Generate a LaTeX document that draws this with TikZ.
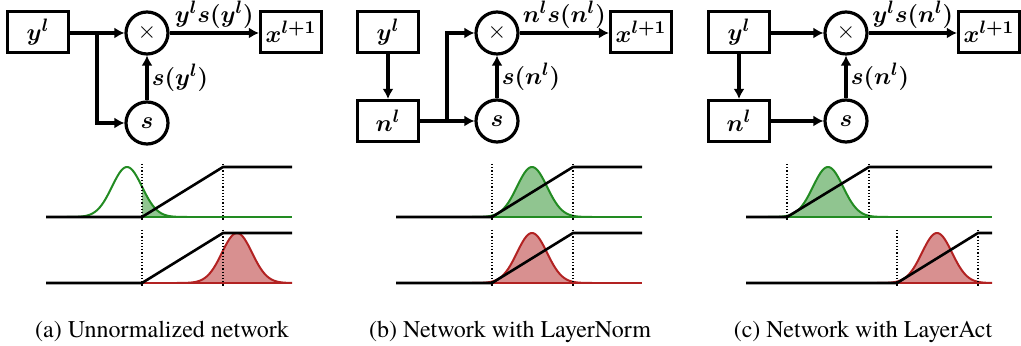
\documentclass[tikz,border=0pt]{standalone}
\usepackage{fontspec}
\setmainfont{texgyretermes}[Extension=.otf,UprightFont=*-regular]
\usepackage{amsmath,bm}
\usepackage{tikz}
\usetikzlibrary{positioning,arrows.meta}

\definecolor{actgreen}{RGB}{34,139,34}
\definecolor{actred}{RGB}{178,34,34}

\begin{document}
\begin{tikzpicture}[x=0.5pt,y=-0.5pt,
  blk/.style={draw,line width=1.6pt,minimum width=30.5pt,minimum height=20.5pt,inner sep=0pt,font=\fontsize{12.5}{14}\selectfont},
  op/.style={draw,circle,line width=1.6pt,minimum size=21pt,inner sep=0pt,font=\fontsize{12.5}{14}\selectfont},
  conn/.style={-{Latex[length=5pt,width=5.5pt]},line width=1.8pt},
  lb/.style={font=\fontsize{12.5}{14}\selectfont,inner sep=1.5pt},
  subcap/.style={font=\fontsize{12}{14}\selectfont,anchor=base},
  act/.style={line width=1.3pt},
  guide/.style={line width=0.7pt,dash pattern=on 0.6pt off 1pt}]
\useasboundingbox (0,0) rectangle (1021,346);

% (a) plain residual branch
\node[blk] (ya) at (38,32) {$\bm{y^l}$};
\node[op] (ma) at (147,33) {$\times$};
\node[op] (sa) at (147,123) {$\bm{s}$};
\node[blk] (xa) at (291,32) {$\bm{x^{l+1}}$};
\coordinate (ja) at (97,33);
\draw[conn] (ya.east |- ma) -- (ma);
\draw[conn] (ja) |- (sa);
\draw[conn] (sa) -- node[lb,right] {$\bm{s(y^l)}$} (ma);
\draw[conn] (ma) -- node[lb,above] {$\bm{y^l s(y^l)}$} (xa.west |- ma);

% (b) normalized input goes both ways
\node[blk] (yb) at (388,32) {$\bm{y^l}$};
\node[blk] (nb) at (388,121) {$\bm{n^l}$};
\node[op] (mb) at (497,33) {$\times$};
\node[op] (sb) at (497,121) {$\bm{s}$};
\node[blk] (xb) at (641,32) {$\bm{x^{l+1}}$};
\coordinate (jb) at (447,121);
\draw[conn] (yb) -- (nb);
\draw[conn] (nb) -- (sb);
\draw[conn] (jb) |- (mb);
\draw[conn] (sb) -- node[lb,right] {$\bm{s(n^l)}$} (mb);
\draw[conn] (mb) -- node[lb,above] {$\bm{n^l s(n^l)}$} (xb.west |- mb);

% (c) normalized input only for the scale
\node[blk] (yc) at (739,32) {$\bm{y^l}$};
\node[blk] (nc) at (739,121) {$\bm{n^l}$};
\node[op] (mc) at (846,33) {$\times$};
\node[op] (sc) at (846,121) {$\bm{s}$};
\node[blk] (xc) at (989,32) {$\bm{x^{l+1}}$};
\draw[conn] (yc.east |- mc) -- (mc);
\draw[conn] (yc) -- (nc);
\draw[conn] (nc) -- (sc);
\draw[conn] (sc) -- node[lb,right] {$\bm{s(n^l)}$} (mc);
\draw[conn] (mc) -- node[lb,above] {$\bm{y^l s(n^l)}$} (xc.west |- mc);

% activation ramps with input densities
\foreach \l/\a/\b/\r/\y/\m/\c in {46/142/223/292/217/127/actgreen,46/142/223/292/283/237/actred,
  396/492/573/642/217/532/actgreen,396/492/573/642/283/532/actred,
  746/787/869/992/217/828/actgreen,746/897/978/992/283/937/actred}{
  \begin{scope}
    \clip (\l,\y-60) rectangle (\r,\y+5);
    \begin{scope}
      \clip (\a,\y-60) rectangle (\r,\y+5);
      \fill[\c,fill opacity=0.5] plot[domain=\m-60:\m+60,samples=70,smooth] (\x,{\y-50*exp(-((\x-\m)/15)^2/2)}) -- cycle;
    \end{scope}
    \draw[\c,line width=1pt] (\l,\y) -- (\r,\y);
    \draw[\c,line width=1pt] plot[domain=\m-60:\m+60,samples=70,smooth] (\x,{\y-50*exp(-((\x-\m)/15)^2/2)});
  \end{scope}
  \draw[guide] (\a,\y-53) -- (\a,\y+3) (\b,\y-53) -- (\b,\y+3);
  \draw[act] (\l,\y) -- (\a,\y) -- (\b,\y-50) -- (\r,\y-50);
}

\node[subcap] (capa) at (162,338) {(a) Unnormalized network};
\node[subcap] (capb) at (510,338) {(b) Network with LayerNorm};
\node[subcap] (capc) at (863,338) {(c) Network with LayerAct};
\end{tikzpicture}
\end{document}
